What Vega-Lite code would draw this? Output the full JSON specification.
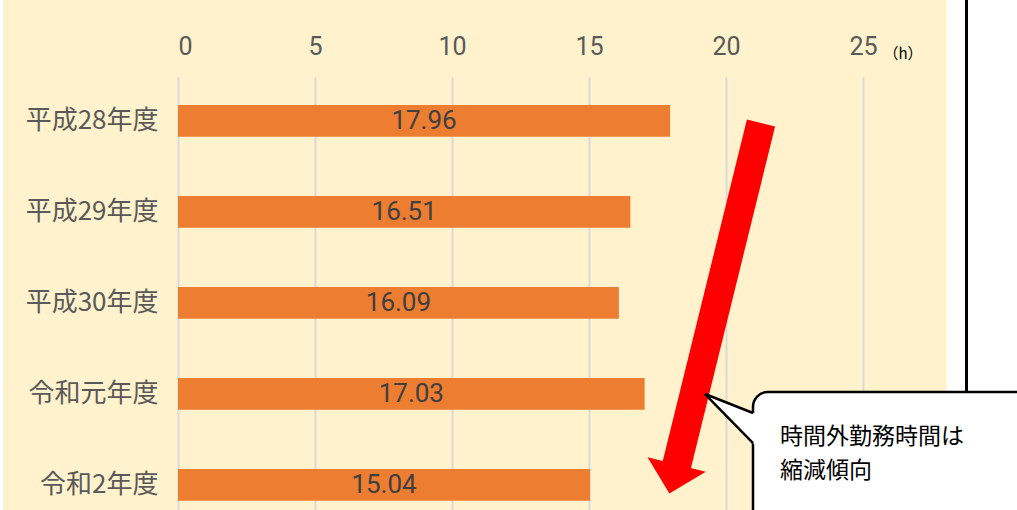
{
  "$schema": "https://vega.github.io/schema/vega-lite/v6.json",
  "width": 839,
  "height": 433,
  "autosize": {"type": "none"},
  "padding": {"left": 178, "top": 77, "right": 0, "bottom": 0},
  "background": "#FFF2CC",
  "config": {"view": {"stroke": null}},
  "layer": [
    {
      "data": {
        "values": [
          {"year": "平成28年度", "hours": 17.96},
          {"year": "平成29年度", "hours": 16.51},
          {"year": "平成30年度", "hours": 16.09},
          {"year": "令和元年度", "hours": 17.03},
          {"year": "令和2年度", "hours": 15.04}
        ]
      },
      "transform": [{"calculate": "datum.hours / 2", "as": "mid"}],
      "encoding": {
        "y": {
          "field": "year",
          "type": "nominal",
          "sort": null,
          "scale": {"paddingInner": 0.65, "paddingOuter": 0.204, "align": 0.754},
          "axis": {
            "title": null,
            "domain": false,
            "ticks": false,
            "labelPadding": 20,
            "labelFont": "Noto Sans CJK JP",
            "labelFontSize": 26,
            "labelColor": "#595959"
          }
        }
      },
      "layer": [
        {
          "mark": {"type": "bar", "color": "#ED7D31"},
          "encoding": {
            "x": {
              "field": "hours",
              "type": "quantitative",
              "scale": {"domain": [0, 30.62], "nice": false},
              "axis": {
                "orient": "top",
                "title": null,
                "values": [0, 5, 10, 15, 20, 25],
                "domain": false,
                "ticks": false,
                "grid": true,
                "gridColor": "#D9D9D9",
                "gridWidth": 2,
                "labelPadding": 18,
                "labelFont": "Roboto",
                "labelFontSize": 25,
                "labelColor": "#595959"
              }
            }
          }
        },
        {
          "mark": {"type": "text", "font": "Roboto", "fontSize": 26, "color": "#404040", "align": "center", "baseline": "middle"},
          "encoding": {
            "x": {"field": "mid", "type": "quantitative", "scale": {"domain": [0, 30.62], "nice": false}},
            "text": {"field": "hours", "type": "quantitative", "format": ".2f"}
          }
        }
      ]
    },
    {
      "data": {"values": [{}]},
      "layer": [
        {
          "mark": {"type": "rect", "color": "#FFFFFF"},
          "encoding": {
            "x": {"datum": 28.047, "type": "quantitative", "title": null, "scale": {"domain": [0, 30.62], "nice": false}},
            "x2": {"datum": 32},
            "y": {"datum": -1.4, "type": "quantitative", "title": null, "scale": {"domain": [-0.4835, 4.2747], "reverse": true, "nice": false, "zero": false}, "axis": null},
            "y2": {"datum": 4.8}
          }
        },
        {
          "mark": {"type": "rect", "color": "#FFFFFF"},
          "encoding": {
            "x": {"datum": -6.6, "type": "quantitative", "title": null},
            "x2": {"datum": -6.387},
            "y": {"datum": -1.4, "type": "quantitative", "title": null},
            "y2": {"datum": 4.8}
          }
        },
        {
          "mark": {"type": "rule", "color": "#000000", "strokeWidth": 3},
          "encoding": {
            "x": {"datum": 28.777, "type": "quantitative", "title": null},
            "y": {"datum": -1.4, "type": "quantitative", "title": null},
            "y2": {"datum": 2.978}
          }
        },
        {
          "mark": {"type": "rule", "color": "#FF0000", "strokeWidth": 29, "strokeCap": "butt"},
          "encoding": {
            "x": {"datum": 21.277, "type": "quantitative", "title": null},
            "x2": {"datum": 18.175},
            "y": {"datum": 0.022, "type": "quantitative", "title": null},
            "y2": {"datum": 3.813}
          }
        },
        {
          "mark": {"type": "point", "shape": "M -1 -0.5 L 1 -0.5 L 0 0.5 Z", "size": 3600, "angle": 14, "filled": true, "color": "#FF0000", "opacity": 1, "strokeWidth": 0},
          "encoding": {
            "x": {"datum": 18.066, "type": "quantitative", "title": null},
            "y": {"datum": 3.934, "type": "quantitative", "title": null}
          }
        },
        {
          "mark": {"type": "rect", "fill": "#FFFFFF", "stroke": "#000000", "strokeWidth": 2.5, "cornerRadius": 15},
          "encoding": {
            "x": {"datum": 20.985, "type": "quantitative", "title": null},
            "x2": {"datum": 32},
            "y": {"datum": 2.978, "type": "quantitative", "title": null},
            "y2": {"datum": 4.7}
          }
        },
        {
          "mark": {"type": "point", "shape": "M 0 0 L 52 20.6 L 52 53.1 Z", "size": 4, "filled": true, "fill": "#FFFFFF", "opacity": 1, "strokeWidth": 0},
          "encoding": {
            "x": {"datum": 19.234, "type": "quantitative", "title": null},
            "y": {"datum": 3.0, "type": "quantitative", "title": null}
          }
        },
        {
          "mark": {"type": "point", "shape": "M 48 19 L 0 0 L 48 49", "size": 4, "filled": false, "fill": null, "stroke": "#000000", "strokeWidth": 2.5, "opacity": 1},
          "encoding": {
            "x": {"datum": 19.234, "type": "quantitative", "title": null},
            "y": {"datum": 3.0, "type": "quantitative", "title": null}
          }
        },
        {
          "mark": {"type": "text", "text": "時間外勤務時間は", "font": "Noto Sans CJK JP", "fontSize": 23, "color": "#000000", "align": "left", "baseline": "middle"},
          "encoding": {
            "x": {"datum": 21.97, "type": "quantitative", "title": null},
            "y": {"datum": 3.4725, "type": "quantitative", "title": null}
          }
        },
        {
          "mark": {"type": "text", "text": "縮減傾向", "font": "Noto Sans CJK JP", "fontSize": 23, "color": "#000000", "align": "left", "baseline": "middle"},
          "encoding": {
            "x": {"datum": 21.97, "type": "quantitative", "title": null},
            "y": {"datum": 3.846, "type": "quantitative", "title": null}
          }
        },
        {
          "mark": {"type": "text", "text": "（h）", "font": "Noto Sans CJK JP", "fontSize": 15, "color": "#000000", "align": "center", "baseline": "middle"},
          "encoding": {
            "x": {"datum": 26.46, "type": "quantitative", "title": null},
            "y": {"datum": -0.74, "type": "quantitative", "title": null}
          }
        }
      ]
    }
  ],
  "resolve": {"scale": {"y": "independent"}, "axis": {"y": "independent"}}
}
